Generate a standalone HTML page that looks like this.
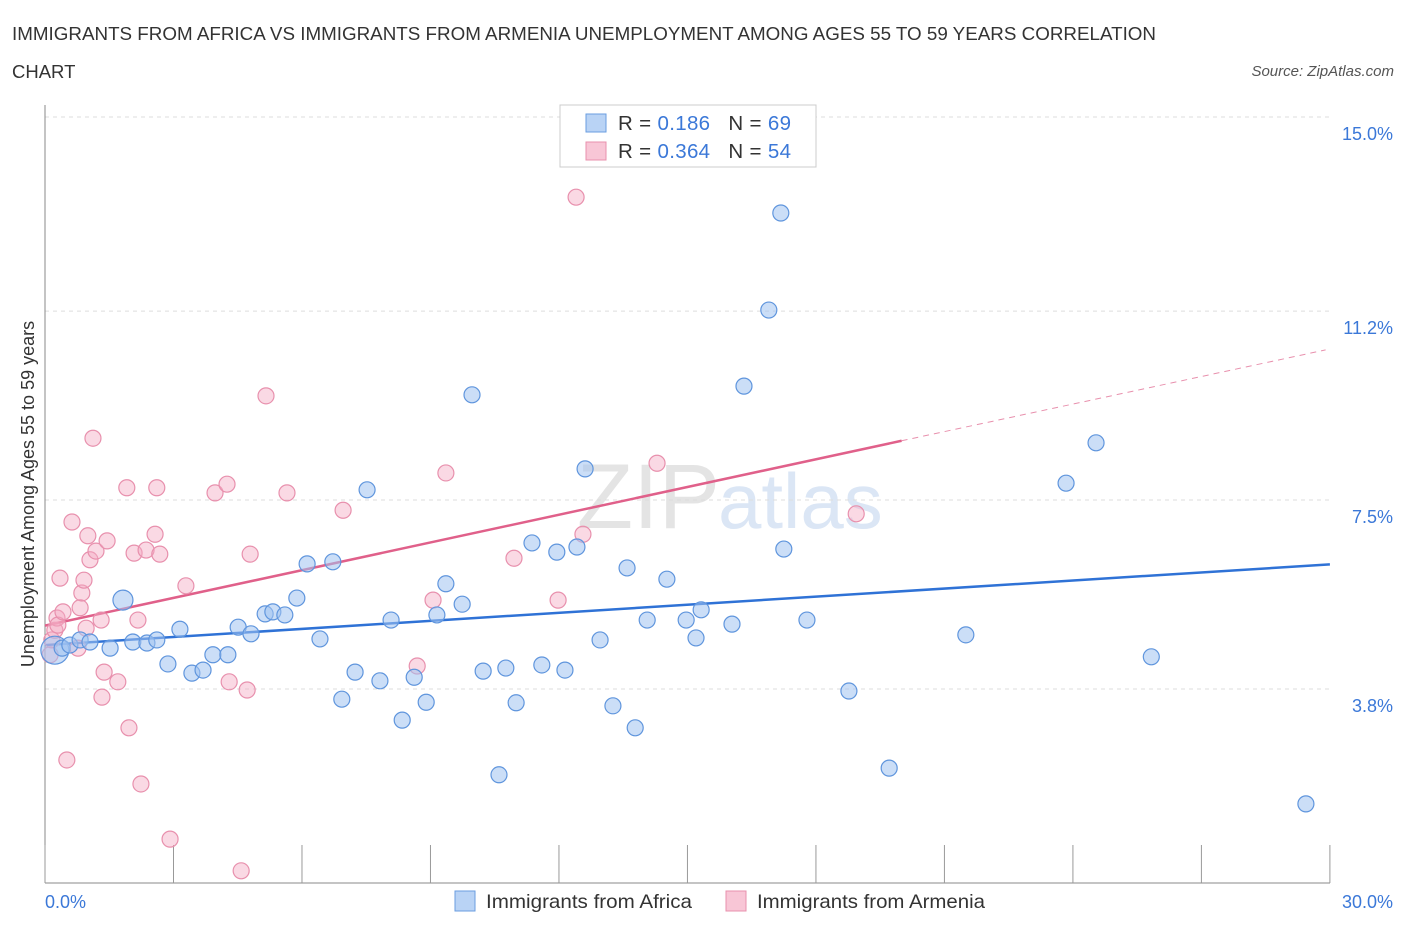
<!DOCTYPE html>
<html><head><meta charset="utf-8"><style>
body{margin:0;background:#fff;font-family:"Liberation Sans",sans-serif;}
svg text{font-family:"Liberation Sans",sans-serif;}
</style></head><body>
<svg id="chart" width="1406" height="930">
<text x="12" y="40" font-size="18.5" fill="#333" textLength="1144" lengthAdjust="spacingAndGlyphs">IMMIGRANTS FROM AFRICA VS IMMIGRANTS FROM ARMENIA UNEMPLOYMENT AMONG AGES 55 TO 59 YEARS CORRELATION</text>
<text x="12" y="78" font-size="18.5" fill="#333">CHART</text>
<text x="1394" y="76" font-size="15" fill="#555" font-style="italic" text-anchor="end">Source: ZipAtlas.com</text>
<text x="720" y="528" font-size="92" fill="#e4e4e4" text-anchor="end" font-family="Liberation Serif">ZIP</text>
<text x="718" y="528" font-size="78" fill="#dbe6f5">atlas</text>
<g id="grid"></g><g id="axes"></g><g id="lines"></g><g id="pts"></g>
<text transform="translate(34,494) rotate(-90)" font-size="18" fill="#333" text-anchor="middle">Unemployment Among Ages 55 to 59 years</text>
<g>
<rect x="560" y="105" width="256" height="62" fill="#fff" stroke="#ccc"/>
<rect x="586" y="114" width="20" height="18" fill="#b9d3f5" stroke="#6a9ee0"/>
<rect x="586" y="142" width="20" height="18" fill="#f8c6d6" stroke="#e890ad"/>
<text x="618" y="130" font-size="20.5" fill="#333" textLength="173" lengthAdjust="spacing">R = <tspan fill="#3b78d8"> 0.186</tspan><tspan dx="18">N = </tspan><tspan fill="#3b78d8">69</tspan></text>
<text x="618" y="158" font-size="20.5" fill="#333" textLength="173" lengthAdjust="spacing">R = <tspan fill="#3b78d8">0.364</tspan><tspan dx="18">N = </tspan><tspan fill="#3b78d8">54</tspan></text>
</g>
<g>
<rect x="455" y="891" width="20" height="20" fill="#b9d3f5" stroke="#6a9ee0"/>
<text x="486" y="908" font-size="19.5" fill="#333" textLength="206" lengthAdjust="spacingAndGlyphs">Immigrants from Africa</text>
<rect x="726" y="891" width="20" height="20" fill="#f8c6d6" stroke="#e890ad"/>
<text x="757" y="908" font-size="19.5" fill="#333" textLength="228" lengthAdjust="spacingAndGlyphs">Immigrants from Armenia</text>
</g>
</svg>
<script>
const yTicks=[15.0,11.2,7.5,3.8];
const yTickLabels=["15.0%","11.2%","7.5%","3.8%"];
const xTickLabels=["0.0%","30.0%"];
const africaX=[0.23,0.40,0.58,0.82,1.05,1.52,1.82,2.05,2.38,2.61,2.87,3.15,3.43,3.69,3.92,4.27,4.51,4.81,5.14,5.32,5.60,5.88,6.12,6.42,6.72,6.93,7.24,7.52,7.82,8.08,8.34,8.62,8.90,9.15,9.36,9.74,9.97,10.23,10.60,10.76,11.00,11.37,11.60,11.95,12.14,12.42,12.61,12.96,13.26,13.59,13.78,14.06,14.52,14.97,15.20,15.32,16.04,16.32,16.90,17.18,17.25,17.79,18.77,19.71,21.50,23.84,24.54,25.83,29.44];
const africaY=[4.56,4.60,4.66,4.76,4.72,4.60,5.54,4.72,4.70,4.76,4.29,4.97,4.11,4.17,4.47,4.47,5.01,4.88,5.27,5.31,5.25,5.58,6.25,4.78,6.29,3.60,4.13,7.70,3.96,5.15,3.19,4.03,3.54,5.25,5.86,5.46,9.56,4.15,2.12,4.21,3.53,6.66,4.27,6.48,4.17,6.58,8.11,4.76,3.47,6.17,3.04,5.15,5.95,5.15,4.80,5.35,5.07,9.73,11.22,13.12,6.54,5.15,3.76,2.25,4.86,7.83,8.62,4.43,1.55];
const armeniaX=[0.12,0.16,0.23,0.28,0.30,0.35,0.42,0.51,0.63,0.77,0.82,0.86,0.91,0.96,1.00,1.05,1.12,1.19,1.31,1.38,1.33,1.45,1.70,1.91,1.96,2.08,2.17,2.24,2.36,2.57,2.61,2.68,2.92,3.29,3.97,4.25,4.30,4.58,4.72,4.79,5.16,5.65,6.96,8.69,9.06,9.36,10.95,11.98,12.40,12.56,14.29,18.94];
const armeniaY=[4.47,4.76,4.95,5.19,5.05,5.97,5.31,2.41,7.07,4.60,5.39,5.68,5.93,4.99,6.80,6.33,8.71,6.50,5.15,4.13,3.64,6.70,3.94,7.74,3.04,6.46,5.15,1.94,6.52,6.83,7.74,6.44,0.86,5.82,7.64,7.81,3.94,0.24,3.78,6.44,9.54,7.64,7.30,4.25,5.54,8.03,6.36,5.54,13.43,6.83,8.22,7.23];
const africaTrend=[4.66,6.24];
const armeniaTrend=[5.04,8.66,10.44];
const X=v=>45+v*42.83, Y=v=>117+(15-v)*51.07;
const NS="http://www.w3.org/2000/svg";
function mk(t,a,p){const e=document.createElementNS(NS,t);for(const k in a)e.setAttribute(k,a[k]);p.appendChild(e);return e;}
const grid=document.getElementById('grid'),axes=document.getElementById('axes'),lines=document.getElementById('lines'),pts=document.getElementById('pts');
yTicks.forEach((t,i)=>{
 const g=mk('line',{x1:45,x2:1330,y1:Y(t),y2:Y(t),stroke:'#ddd','stroke-dasharray':'4,4'},grid);
 
 
 const l=mk('text',{x:1393,y:Y(t)+23,'font-size':18,fill:'#3b78d8','text-anchor':'end'},axes);l.textContent=yTickLabels[i];
 
 
});
const ya=mk('line',{x1:45,x2:45,y1:105,y2:883,stroke:'#888'},axes);


const xa=mk('line',{x1:45,x2:1330,y1:883,y2:883,stroke:'#888'},axes);


for(let i=0;i<=10;i++){const tk=mk('line',{x1:X(i*3),x2:X(i*3),y1:845,y2:883,stroke:'#999'},axes);
 
 }
[[0,'start',45],[30,'end',1393]].forEach((d,i)=>{const t=mk('text',{x:d[2],y:908,'font-size':18,fill:'#3b78d8','text-anchor':d[1]},axes);t.textContent=xTickLabels[i];
 
 });
function dots(xs,ys,fill,stroke,name){xs.forEach((x,i)=>{const r=(i===0&&name==='africa-point')?14:(i===6&&name==='africa-point')?10:8;
 const c=mk('circle',{cx:X(x),cy:Y(ys[i]),r:r,fill:fill,stroke:stroke,'stroke-width':1.2},pts);
 
 });}
dots(armeniaX,armeniaY,'rgba(245,170,195,0.45)','#e890ad','armenia-point');
dots(africaX,africaY,'rgba(160,195,240,0.55)','#5f95dd','africa-point');
const bl=mk('line',{x1:X(0),y1:Y(africaTrend[0]),x2:X(30),y2:Y(africaTrend[1]),stroke:'#2f72d6','stroke-width':2.5},lines);


const pl=mk('line',{x1:X(0),y1:Y(armeniaTrend[0]),x2:X(20),y2:Y(armeniaTrend[1]),stroke:'#e0608a','stroke-width':2.5},lines);


const pd=mk('line',{x1:X(20),y1:Y(armeniaTrend[1]),x2:X(29.9),y2:Y(armeniaTrend[2]),stroke:'#e890ad','stroke-width':1,'stroke-dasharray':'6,5'},lines);


</script>
</body></html>
